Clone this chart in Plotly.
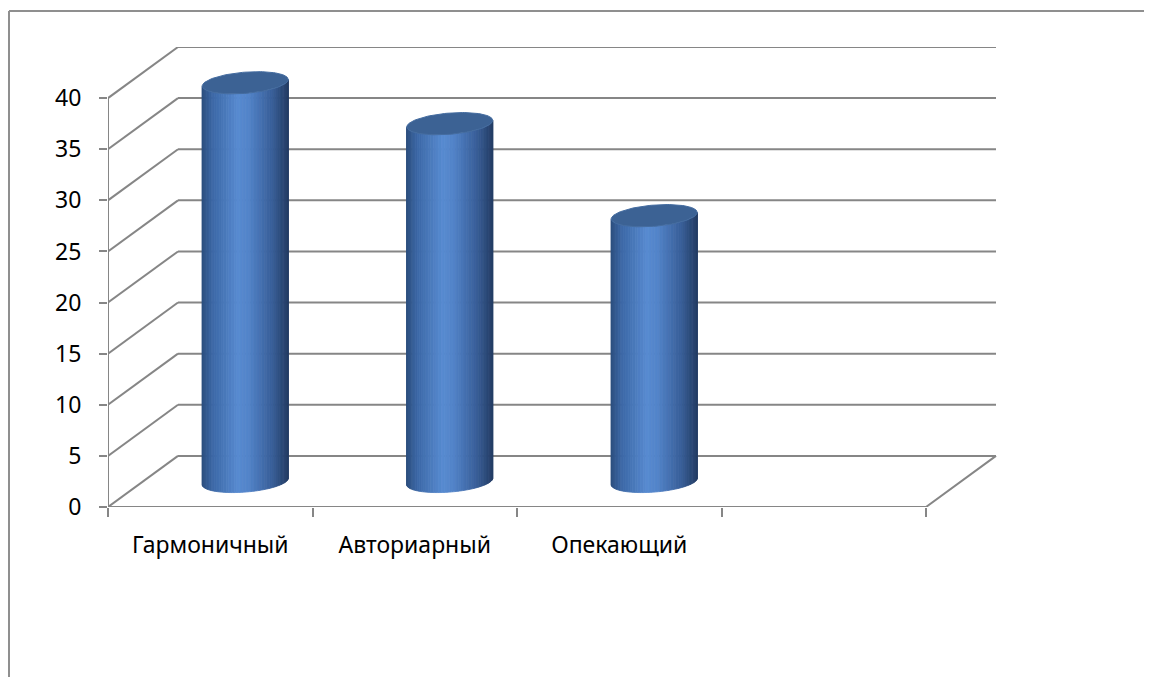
import numpy as np
import plotly.graph_objects as go

# ---- data ----
categories = ["Гармоничный", "Авториарный", "Опекающий"]
values = [39, 35, 26]
y_ticks = [0, 5, 10, 15, 20, 25, 30, 35, 40]
n_slots = 4  # category slots on the floor (last one empty)

# ---- projection of the 3D box (in axis units) ----
DX = 70 / 204.5      # horizontal depth offset
DY = 5.0             # vertical depth offset
XMAX = 890 / 204.5
GRID = "#868686"

fig = go.Figure()

# back wall gridlines + left wall diagonals + floor
gx, gy = [], []
for v in y_ticks:
    gx += [DX, n_slots + DX, None]
    gy += [v + DY, v + DY, None]
    gx += [0, DX, None]
    gy += [v, v + DY, None]
# front vertical axis line
gx += [0, 0, None]
gy += [0, max(y_ticks), None]
# floor front edge and right diagonal
gx += [0, n_slots, n_slots + DX, None]
gy += [0, 0, DY, None]
fig.add_trace(go.Scatter(x=gx, y=gy, mode="lines", line=dict(color=GRID, width=2),
                         hoverinfo="skip", showlegend=False))

# ---- cylinders ----
RX = 43 / 204.5
RY = 1.04
SK = 0.32  # tilt of the ellipses


def ell(cx, cy, t):
    return cx + RX * np.cos(t), cy + RY * np.sin(t) + SK * np.cos(t)


stops_u = [0.0, 0.12, 0.42, 0.55, 0.82, 1.0]
stops_c = [(44, 78, 126), (60, 104, 166), (88, 139, 209), (82, 131, 200), (56, 94, 152), (37, 62, 102)]


def shade(u):
    r = np.interp(u, stops_u, [c[0] for c in stops_c])
    g = np.interp(u, stops_u, [c[1] for c in stops_c])
    b = np.interp(u, stops_u, [c[2] for c in stops_c])
    return f"rgb({int(r)},{int(g)},{int(b)})"


NS = 48
ts = np.linspace(np.pi, 2 * np.pi, NS + 1)
for j in range(NS):
    t0, t1 = ts[j], ts[j + 1]
    xs, ys = [], []
    for i, v in enumerate(values):
        cx = i + 0.5 + DX / 2
        base = DY / 2
        top = v + DY / 2
        ax0, ay0 = ell(cx, top, t0)
        ax1, ay1 = ell(cx, top, t1)
        bx1, by1 = ell(cx, base, t1)
        bx0, by0 = ell(cx, base, t0)
        xs += [ax0, ax1, bx1, bx0, ax0, None]
        ys += [ay0, ay1, by1, by0, ay0, None]
    u = (np.cos((t0 + t1) / 2) + 1) / 2
    col = shade(u)
    fig.add_trace(go.Scatter(x=xs, y=ys, mode="lines", fill="toself", fillcolor=col,
                             line=dict(color=col, width=0.8), hoverinfo="skip", showlegend=False))

# top ellipses
tt = np.linspace(0, 2 * np.pi, 120)
xs, ys = [], []
for i, v in enumerate(values):
    cx = i + 0.5 + DX / 2
    ex, ey = ell(cx, v + DY / 2, tt)
    xs += list(ex) + [None]
    ys += list(ey) + [None]
fig.add_trace(go.Scatter(x=xs, y=ys, mode="lines", fill="toself", fillcolor="rgb(60,98,148)",
                         line=dict(color="rgb(68,108,160)", width=1), hoverinfo="skip", showlegend=False))

# invisible trace for tick axis
fig.add_trace(go.Scatter(x=[0, n_slots], y=[0, 0], xaxis="x2", mode="lines",
                         line=dict(width=0), hoverinfo="skip", showlegend=False))

FONT = "Noto Sans"
FS = 23
fig.update_layout(
    width=1144, height=669,
    margin=dict(l=100, r=154, t=39, b=170, autoexpand=False),
    paper_bgcolor="white", plot_bgcolor="white",
    font=dict(family=FONT, size=FS, color="black"),
    xaxis=dict(range=[0, XMAX], tickvals=[i + 0.5 for i in range(len(categories))],
               ticktext=categories, ticks="", showgrid=False, zeroline=False, showline=False,
               ticklabelstandoff=22, tickfont=dict(size=FS, family=FONT), fixedrange=True,
               automargin=False),
    xaxis2=dict(range=[0, XMAX], overlaying="x", anchor="y", side="bottom",
                tickvals=list(range(n_slots + 1)), ticks="outside", ticklen=9, tickwidth=2,
                tickcolor=GRID, showticklabels=False, showgrid=False, zeroline=False,
                showline=False, automargin=False),
    yaxis=dict(range=[0, 45], tickvals=y_ticks, ticks="outside", ticklen=8, tickwidth=2,
               tickcolor=GRID, showgrid=False, zeroline=False, showline=False,
               ticklabelstandoff=13, tickfont=dict(size=FS, family=FONT), automargin=False),
    shapes=[
        dict(type="line", xref="paper", yref="paper", x0=(9 - 108) / 890, x1=(9 - 108) / 890,
             y0=(507 - 11) / 460, y1=(507 - 700) / 460, line=dict(color="#8f8f8f", width=2)),
        dict(type="line", xref="paper", yref="paper", x0=(9 - 108) / 890, x1=(1170 - 108) / 890,
             y0=(507 - 11) / 460, y1=(507 - 11) / 460, line=dict(color="#8f8f8f", width=2)),
    ],
)

fig.write_html("out.html")
